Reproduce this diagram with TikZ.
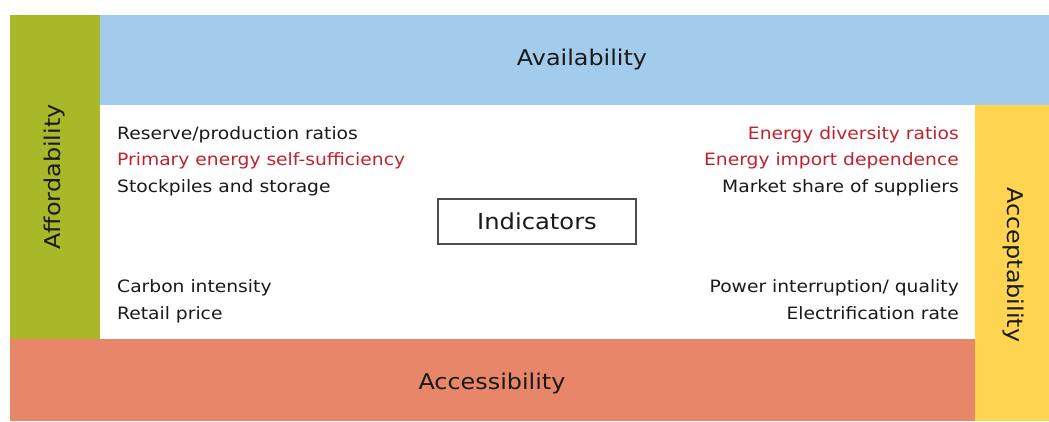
\documentclass[tikz,border=0pt]{standalone}
\usepackage{fontspec}
\setmainfont{DejaVu Sans}[FakeStretch=1.1]
\usetikzlibrary{positioning}
\definecolor{ink}{HTML}{1A1A1A}
\definecolor{keyred}{HTML}{BE2230}
\definecolor{availblue}{HTML}{A3CBEB}
\definecolor{affgreen}{HTML}{A8B828}
\definecolor{accyellow}{HTML}{FFD451}
\definecolor{accorange}{HTML}{E8866A}

\begin{document}
\begin{tikzpicture}[
  x=1pt,y=-1pt,
  pillar/.style={inner sep=0pt,text=ink,font=\fontsize{21.7}{26}\selectfont},
  item/.style={inner sep=0pt,text=ink,font=\fontsize{17}{20}\selectfont},
  key/.style={item,text=keyred},
  frame/.style={draw=black!70,line width=1.1pt,minimum width=198pt,minimum height=45pt,inner sep=0pt,text=ink,font=\fontsize{22}{26}\selectfont}
]
\fill[white] (0,0) rectangle (1049,421);
\useasboundingbox (0,0) rectangle (1049,421);
% the four pillars
\fill[availblue] (100,15) rectangle (1049,105);
\fill[affgreen] (10,15) rectangle (100,339);
\fill[accyellow] (975,105) rectangle (1049,421);
\fill[accorange] (10,339) rectangle (975,421);
\node[pillar] (availability) at (582,60) {Availability};
\node[pillar,rotate=90] (affordability) at (55,177) {Affordability};
\node[pillar,rotate=-90] (acceptability) at (1013,265) {Acceptability};
\node[pillar] (accessibility) at (492,384) {Accessibility};
% centre
\node[frame] (indicators) at (537,221.5) {Indicators};
% left column
\node[item,anchor=base west] (reserve) at (117,139) {Reserve/production ratios};
\node[key,anchor=base west] (selfsuff) at (117,165.5) {Primary energy self-sufficiency};
\node[item,anchor=base west] (stock) at (117,192) {Stockpiles and storage};
\node[item,anchor=base west] (carbon) at (117,292) {Carbon intensity};
\node[item,anchor=base west] (retail) at (117,319) {Retail price};
% right column
\node[key,anchor=base east] (diversity) at (959,139) {Energy diversity ratios};
\node[key,anchor=base east] (import) at (959,165.5) {Energy import dependence};
\node[item,anchor=base east] (market) at (959,192) {Market share of suppliers};
\node[item,anchor=base east] (power) at (959,292) {Power interruption/ quality};
\node[item,anchor=base east] (electric) at (959,319) {Electrification rate};
\end{tikzpicture}
\end{document}
